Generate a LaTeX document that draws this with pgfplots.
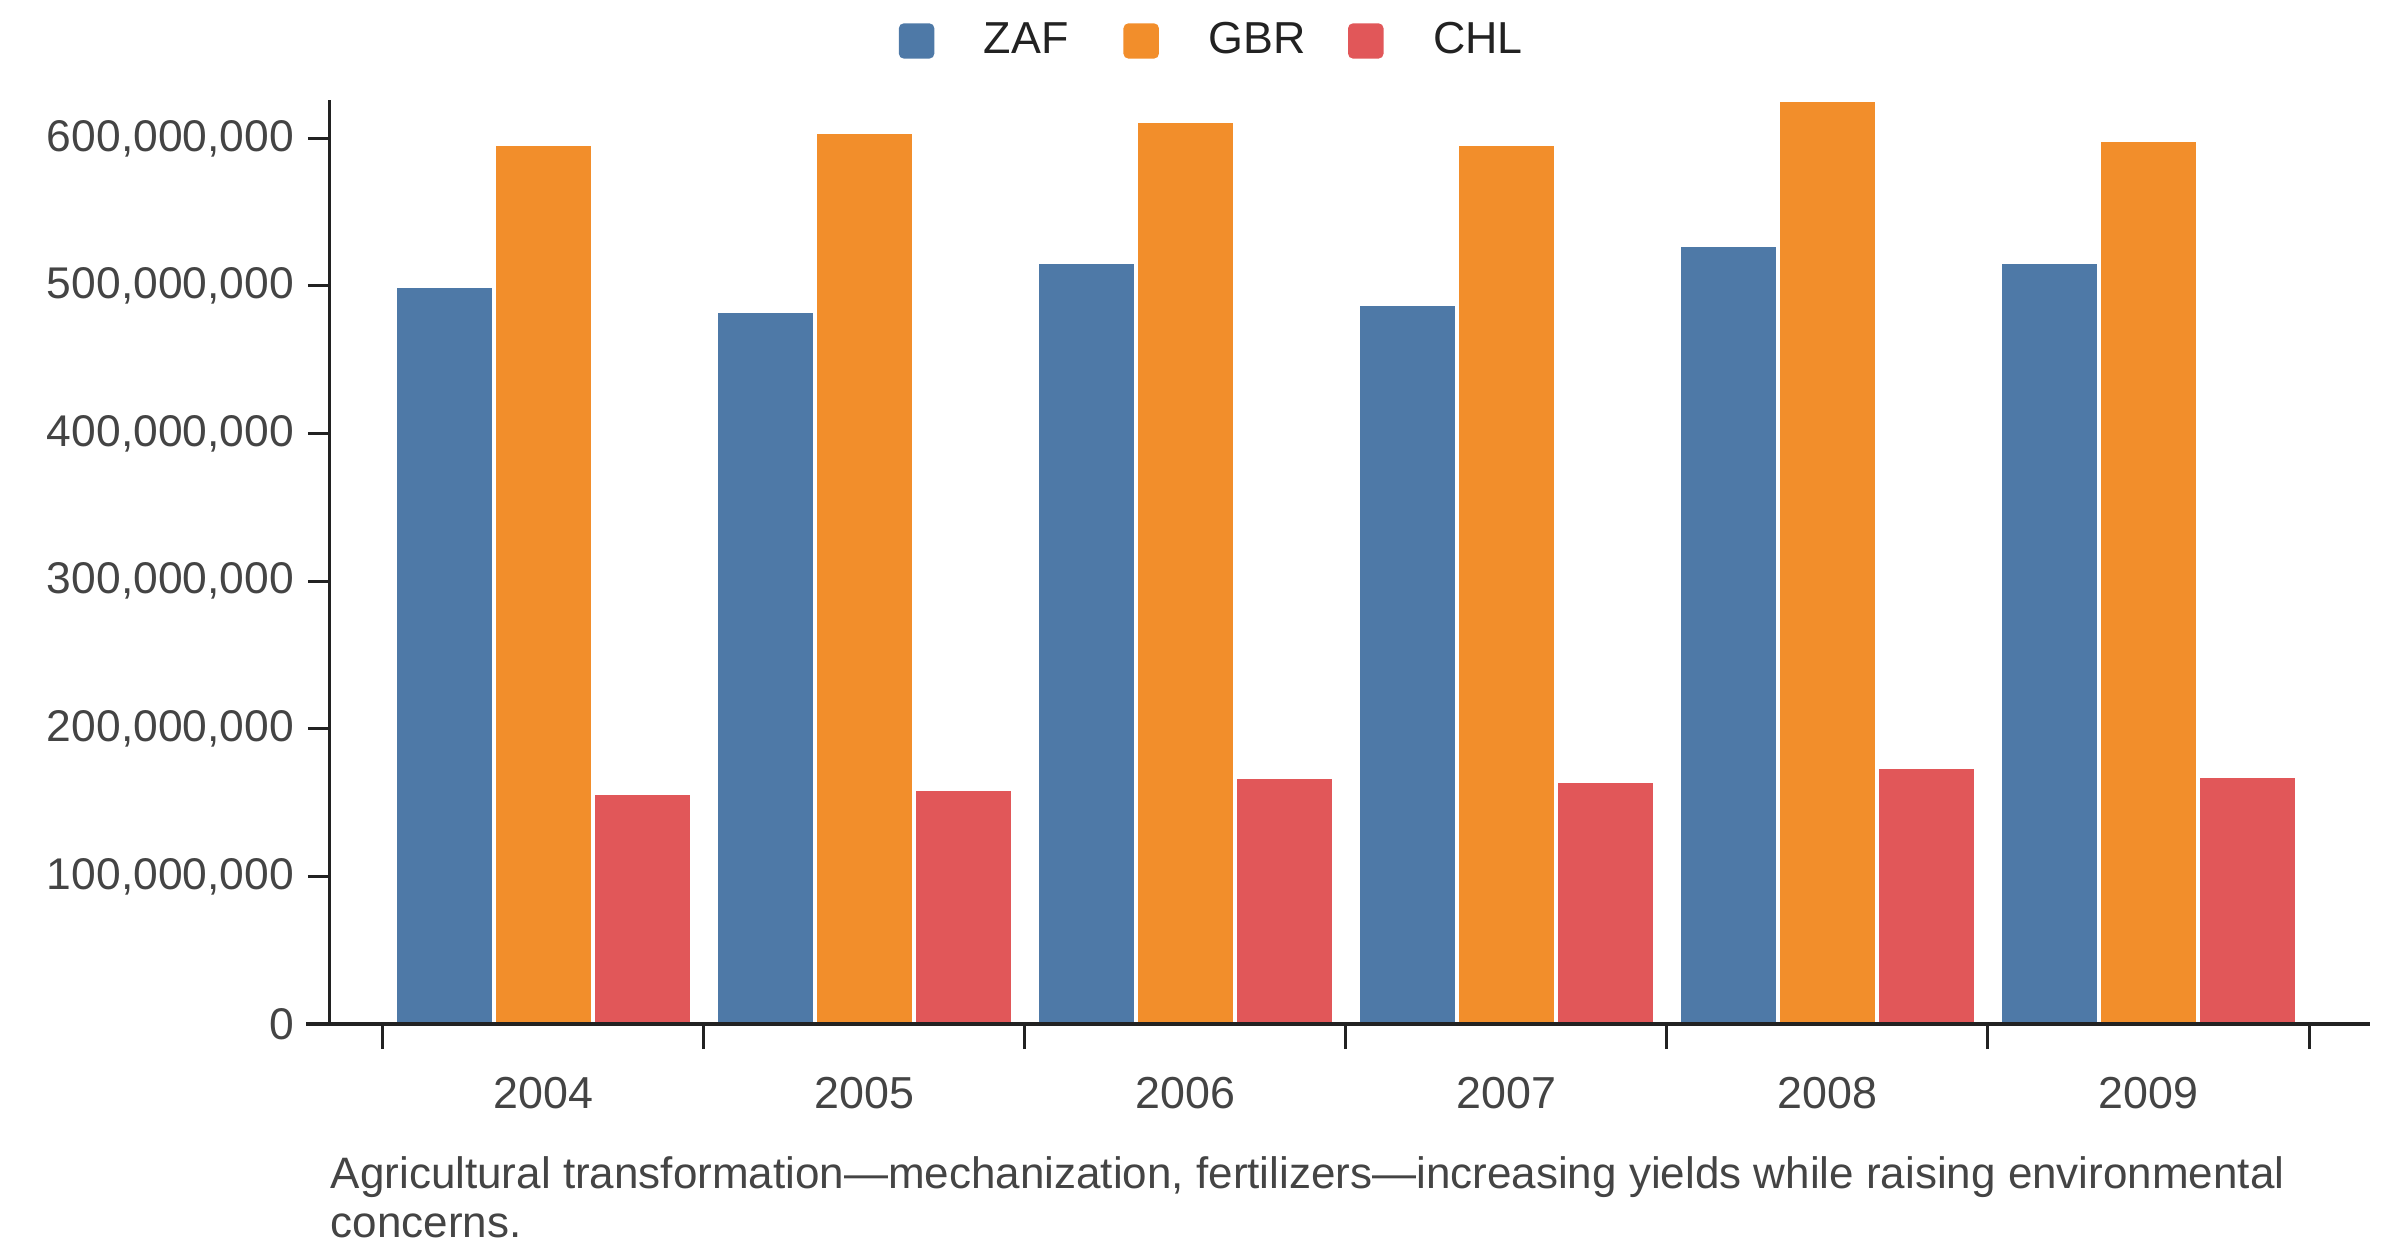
\documentclass[border=0pt]{standalone}
\usepackage{fontspec}
\setmainfont{Liberation Sans}
\usepackage{pgfplots}
\pgfplotsset{compat=1.18}
\definecolor{zaf}{HTML}{4E79A7}
\definecolor{gbr}{HTML}{F28E2B}
\definecolor{chl}{HTML}{E15759}
\definecolor{axisc}{HTML}{222222}
\definecolor{tickc}{HTML}{444444}
\begin{document}
\begin{tikzpicture}
\useasboundingbox (-82.5pt,-58pt) rectangle (517.5pt,256pt);
\begin{axis}[
  scale only axis, width=510pt, height=231pt,
  xmin=-0.664, xmax=5.69, ymin=0, ymax=626000000,
  axis x line=bottom, axis y line=left,
  axis line style={-, color=axisc},
  x axis line style={line width=1.1pt},
  y axis line style={line width=0.75pt},
  axis on top, clip=false,
  ybar=0pt, bar width=0.308,
  xtick={0,1,2,3,4,5}, xticklabels={2004,2005,2006,2007,2008,2009},
  minor xtick={-0.5,0.5,1.5,2.5,3.5,4.5,5.5},
  ytick={0,100000000,200000000,300000000,400000000,500000000,600000000},
  scaled y ticks=false,
  tick align=outside,
  major tick length=5.5pt, minor tick length=6.25pt,
  major x tick style={draw=none},
  every tick/.style={color=axisc, line width=0.75pt},
  /pgf/number format/assume math mode=true,
  yticklabel style={/pgf/number format/fixed, /pgf/number format/1000 sep={,}, font=\fontsize{11.1}{13}\selectfont, color=tickc},
  xticklabel style={font=\fontsize{11.2}{13}\selectfont, color=tickc, yshift=-4.25pt},
  legend style={at={(0.2726,1.0639)}, anchor=west, draw=none, fill=none,
    legend columns=-1, font=\fontsize{11.2}{13}\selectfont, text=axisc,
    nodes={inner sep=0pt},
    /tikz/every odd column/.append style={column sep=12.4pt},
    /tikz/every even column/.append style={column sep=0pt}},
  legend image code/.code={\fill[#1, draw=none, rounded corners=1.2pt] (0pt,-4.4pt) rectangle (8.85pt,4.4pt);},
]
\addplot[fill=zaf, draw=white, line width=1pt] coordinates {(0,500000000) (1,483000000) (2,516000000) (3,488000000) (4,528000000) (5,516500000)};
\addplot[fill=gbr, draw=white, line width=1pt] coordinates {(0,596500000) (1,604500000) (2,611500000) (3,596500000) (4,626000000) (5,599000000)};
\addplot[fill=chl, draw=white, line width=1pt] coordinates {(0,156500000) (1,159000000) (2,167300000) (3,164600000) (4,174000000) (5,168000000)};
\legend{\makebox[34.9pt][l]{ZAF},\makebox[34.9pt][l]{GBR},\makebox[34.9pt][l]{CHL}}
\draw[line width=1.1pt, axisc] (axis cs:-0.738,0) -- (axis cs:-0.664,0);
\end{axis}
\node[anchor=base west, inner sep=0pt, font=\fontsize{11}{13}\selectfont, text=tickc] at (0pt,-41.2pt) {Agricultural transformation—mechanization, fertilizers—increasing yields while raising environmental};
\node[anchor=base west, inner sep=0pt, font=\fontsize{11}{13}\selectfont, text=tickc] at (0pt,-53.4pt) {concerns.};
\end{tikzpicture}
\end{document}
